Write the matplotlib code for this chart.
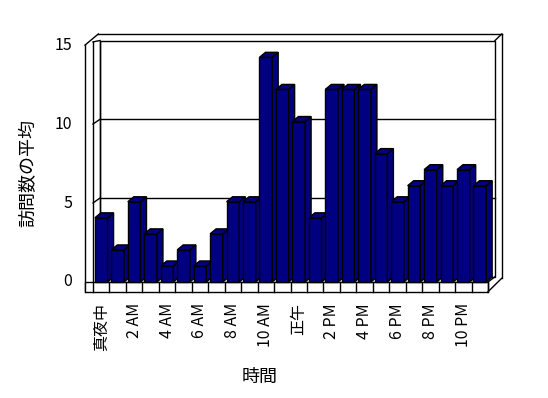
import matplotlib
matplotlib.use("Agg")
import matplotlib.pyplot as plt
from matplotlib.patches import Polygon, Rectangle

plt.rcParams['font.family'] = ['Noto Sans CJK JP', 'DejaVu Sans']

# DATA
hours = list(range(24))
visits = [4, 2, 5, 3, 1, 2, 1, 3, 5, 5, 14, 12, 10, 4, 12, 12, 12, 8, 5, 6, 7, 6, 7, 6]
tick_labels = ["真夜中", "2 AM", "4 AM", "6 AM", "8 AM", "10 AM",
               "正午", "2 PM", "4 PM", "6 PM", "8 PM", "10 PM"]
y_ticks = [0, 5, 10, 15]
x_title = "時間"
y_title = "訪問数の平均"

# LAYOUT (pixel geometry of the fake 3D box)
W, H = 548, 398
X0, PX_CAT = 93.0, 16.46      # category 0 left edge, px per category
Y0, PX_VAL = 282.0, 16.05     # value 0 on front plane, px per unit
NAVY = "#000080"


def px(xp, yp):
    return (xp - X0) / PX_CAT, (Y0 - yp) / PX_VAL


def yb(v):  # value on the back wall
    return v * 0.981 + 0.33


def yf(v):  # value on the front edge of the side wall
    return v * 0.984


n = len(hours)
dxw = 7 / PX_CAT               # wall depth offset
bw = 0.77                      # bar front width
bdx, bdy = 0.365, 0.31         # bar depth offset

fig = plt.figure(figsize=(W / 100, H / 100), dpi=100)
ax = fig.add_axes([0, 0, 1, 1])
x_lo, y_hi = px(0, 0)
x_hi, y_lo = px(W, H)
ax.set_xlim(x_lo, x_hi)
ax.set_ylim(y_lo, y_hi)
ax.axis('off')

lw = 1.0
k = dict(color='black', lw=lw, zorder=2)
top = y_ticks[-1]

# back wall and gridlines
ax.add_patch(Rectangle((dxw, yb(0)), n, yb(top) - yb(0), fc='white', ec='black', lw=lw, zorder=1))
for v in y_ticks[1:-1]:
    ax.plot([dxw, n + dxw], [yb(v), yb(v)], **k)
    ax.plot([0, dxw], [yf(v), yb(v)], **k)

# left wall
xo = px(85, 0)[0]
_, y_floor = px(0, 291.7)
xbo, ybo = px(98.3, 34)
ax.plot([xo, xo], [y_floor, yf(top)], **k)
ax.plot([xo, xbo], [yf(top), ybo], **k)
ax.plot([0, 0], [0, yf(top) + 0.2], **k)
ax.plot([0, dxw], [yf(top) + 0.2, yb(top)], **k)
ax.plot([dxw, dxw], [yb(0), yb(top)], **k)

# top and right outer edges
xr = px(501.7, 0)[0]
_, yr_bot = px(0, 278.3)
ax.plot([xbo, xr], [ybo, ybo], **k)
ax.plot([xr, xr], [ybo, yr_bot], **k)
ax.plot([n + dxw, xr], [yb(top), ybo], **k)

# floor front strip with category cells
ax.add_patch(Rectangle((xo, y_floor), n - xo, -y_floor, fc='white', ec='black', lw=lw, zorder=2))
for i in range(n + 1):
    ax.plot([i, i], [y_floor, 0], **k)
ax.plot([n, xr], [y_floor, yr_bot], **k)
ax.plot([n, n + dxw], [0, yb(0)], **k)

# bars
for i, v in enumerate(visits):
    z = 10 + i
    x1 = i + (1 - bw) / 2
    x2 = x1 + bw
    ax.bar(x1, v, width=bw, align='edge', color=NAVY, edgecolor='black', lw=lw, zorder=z)
    ax.add_patch(Polygon([(x2, 0), (x2 + bdx, bdy), (x2 + bdx, v + bdy), (x2, v)],
                         closed=True, fc=NAVY, ec='black', lw=lw, zorder=z))
    ax.add_patch(Polygon([(x1, v), (x1 + bdx, v + bdy), (x2 + bdx, v + bdy), (x2, v)],
                         closed=True, fc=NAVY, ec='black', lw=lw, zorder=z))

# text
fs = 11.5
xl = px(72, 0)[0]
for v in y_ticks:
    ax.text(xl, yf(v), str(v), ha='right', va='center', fontsize=fs)
_, ylab = px(0, 303)
for j, lab in enumerate(tick_labels):
    ax.text(hours[2 * j] + 0.5, ylab, lab, rotation=90, ha='center', va='top', fontsize=fs)
tx, ty = px(260, 377)
ax.text(tx, ty, x_title, ha='center', va='center', fontsize=13)
tx, ty = px(28, 173)
ax.text(tx, ty, y_title, ha='center', va='center', rotation=90, fontsize=13)

fig.savefig("out.png", dpi=100)
